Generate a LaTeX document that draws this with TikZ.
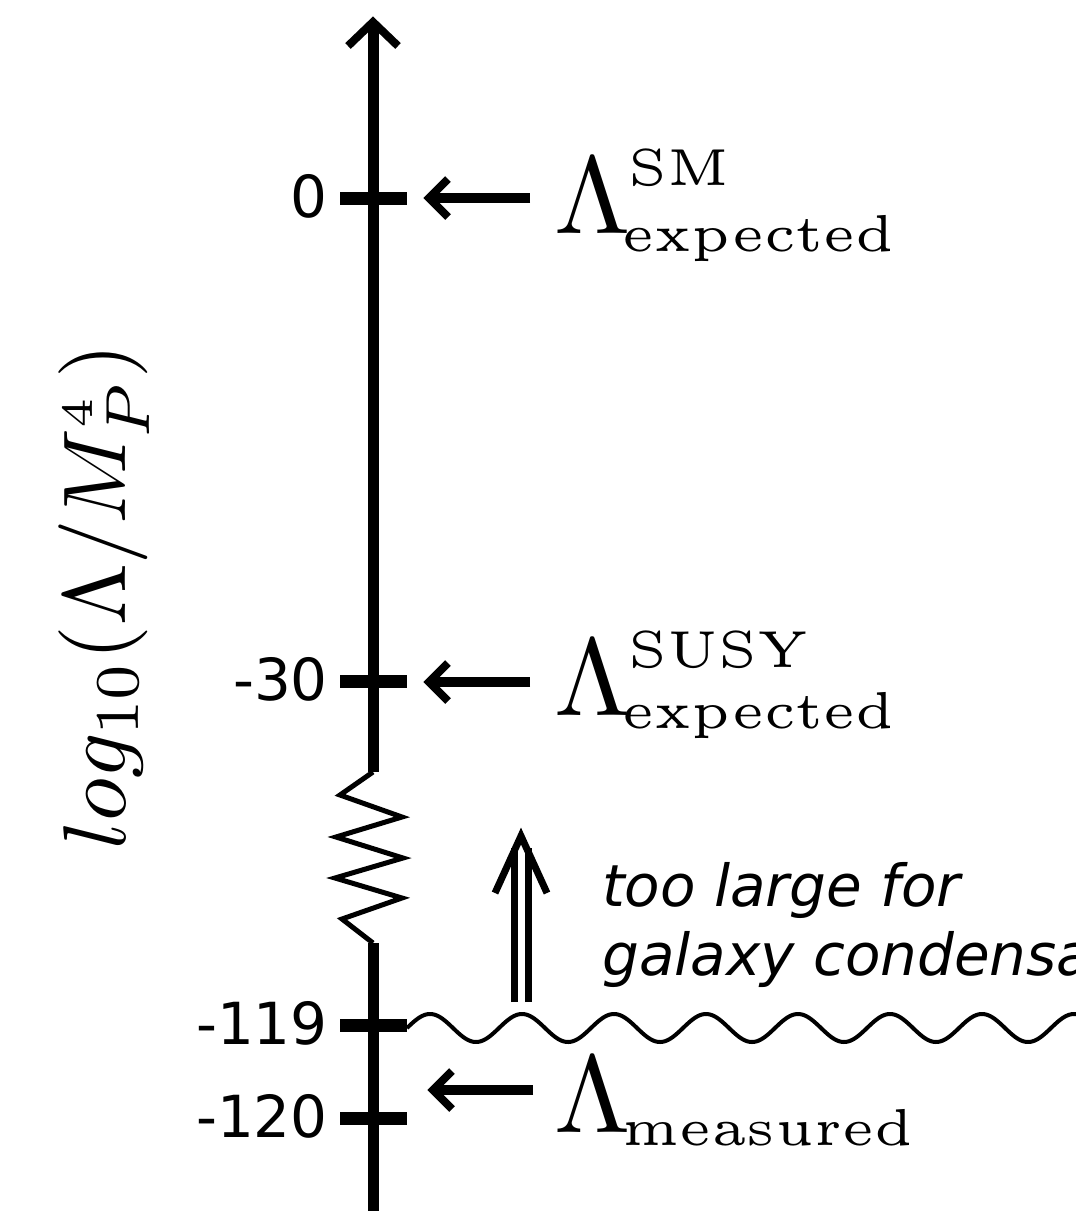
\RequirePackage{fix-cm}
\documentclass[tikz,border=0pt]{standalone}
\usepackage[no-math]{fontspec}
\newfontfamily\dvsans{DejaVu Sans}
% Computer Modern faces for the Lambda labels
\font\lamfont=cmr10 at 110pt
\font\scrfont=cmr5 at 52pt

% Lambda with a raised and a lowered tag
\newcommand\lamlabel[3]{{\lamfont\char3}\kern-8pt\rlap{\kern6pt\raisebox{48pt}{\scrfont #1}}\raisebox{-#3}{\scrfont #2}}

\tikzset{
  axisline/.style={line width=11pt},
  tickmark/.style={line width=13pt},
  zig/.style={line width=5pt, line join=miter},
  chevron/.style={line width=8pt, line join=miter},
  pointer/.style={line width=10pt},
  wave/.style={line width=4pt},
  dbl/.style={line width=7pt, line join=miter},
  ticklabel/.style={font=\dvsans\fontsize{58}{64}\selectfont, inner sep=0pt, anchor=base east},
  lamnode/.style={inner sep=0pt, anchor=base west},
}

\begin{document}
\begin{tikzpicture}[x=1pt,y=-1pt]
\useasboundingbox (0,0) rectangle (1076,1211);
\clip (0,0) rectangle (1076,1211);

% vertical axis with a break
\coordinate (top) at (373,22);
\coordinate (brkA) at (373,772);
\coordinate (brkB) at (373,943);
\coordinate (bot) at (373,1220);
\draw[axisline] (top) -- (brkA);
\draw[zig] (brkA) -- (340,795) -- (402,817) -- (336,837) -- (403,858)
  -- (335,878) -- (402,898) -- (342,919) -- (brkB);
\draw[axisline] (brkB) -- (bot);
\draw[chevron] (348,46) -- (top) -- (398,46);

% ticks and their values
\foreach \nm/\y/\lab in {t0/198/0, t30/681.5/-30, t119/1025.5/-119, t120/1118.5/-120}{
  \coordinate (\nm w) at (340,\y);
  \coordinate (\nm e) at (407,\y);
  \draw[tickmark] (\nm w) -- (\nm e);
  \node[ticklabel] (\nm lab) at (328,\y+19) {\lab};
}

% pointers to the ticks
\coordinate (p1s) at (530,198);  \coordinate (p1t) at (429,198);
\coordinate (p2s) at (530,682);  \coordinate (p2t) at (429,682);
\coordinate (p3s) at (533,1090); \coordinate (p3t) at (433,1090);
\foreach \p in {p1,p2,p3}{
  \draw[pointer] (\p s) -- ([xshift=2pt]\p t);
  \draw[chevron] ([shift={(19,-19)}]\p t) -- (\p t) -- ([shift={(19,19)}]\p t);
}

% Lambda labels
\node[lamnode] (lSM) at (554,233) {\lamlabel{SM}{expected}{18pt}};
\node[lamnode] (lSUSY) at (554,715) {\lamlabel{SUSY}{expected}{13pt}};
\node[lamnode] (lmeas) at (554,1132) {\lamlabel{}{measured}{13pt}};

% wavy limit line (period 92)
\draw[wave] plot[domain=407:1085, samples=400, smooth] (\x,{1028-14*sin((\x-407)*3.913)});

% double arrow and note
\coordinate (dtip) at (521,836);
\draw[dbl] (514,1002) -- (514,848);
\draw[dbl] (528,1002) -- (528,848);
\draw[dbl] (495,893) -- (dtip) -- (547,893);
\node[inner sep=0pt, anchor=base west, align=left,
  font=\dvsans\itshape\fontsize{58}{69}\selectfont] (note) at (602,975)
  {too large for\\galaxy condensation};

% axis title
\node[rotate=90, scale=8.9, inner sep=0pt, anchor=base] (ylab) at (125,597)
  {\fontsize{10}{12}\selectfont $log_{10}(\Lambda/M_P^{\scriptscriptstyle 4})$};
\end{tikzpicture}
\end{document}
